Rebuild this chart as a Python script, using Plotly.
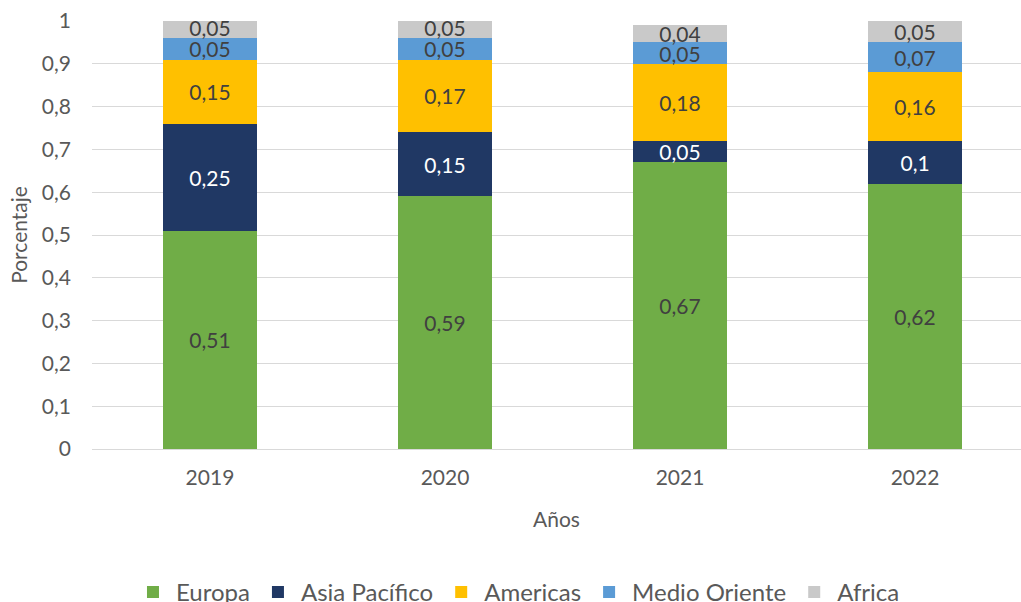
import plotly.graph_objects as go

years = ["2019", "2020", "2021", "2022"]
europa = [0.51, 0.59, 0.67, 0.62]
asia_pacifico = [0.25, 0.15, 0.05, 0.10]
americas = [0.15, 0.17, 0.18, 0.16]
medio_oriente = [0.05, 0.05, 0.05, 0.07]
africa = [0.05, 0.05, 0.04, 0.05]

series = [
    ("Europa", europa, "#70AD47", "#404040"),
    ("Asia Pacífico", asia_pacifico, "#203864", "#FFFFFF"),
    ("Americas", americas, "#FFC000", "#404040"),
    ("Medio Oriente", medio_oriente, "#5B9BD5", "#404040"),
    ("Africa", africa, "#C9C9C9", "#404040"),
]

FONT = "Lato, Carlito, Calibri, sans-serif"

fig = go.Figure()
for name, vals, color, tcol in series:
    fig.add_trace(go.Bar(
        name=name, x=years, y=vals,
        marker=dict(color=color, line=dict(width=0)),
        width=0.4,
        texttemplate="%{y}",
        textposition="inside",
        insidetextanchor="middle",
        textangle=0,
        constraintext="none",
        insidetextfont=dict(family=FONT, size=21, color=tcol),
    ))

fig.update_layout(
    barmode="stack",
    width=1021, height=602,
    margin=dict(l=92, r=0, t=21, b=153),
    plot_bgcolor="white", paper_bgcolor="white",
    separators=",.",
    font=dict(family=FONT, color="#595959", size=21),
    uniformtext=dict(minsize=21, mode="show"),
    showlegend=True,
    legend=dict(
        orientation="h", x=0.458, xanchor="center",
        y=0.016, yanchor="middle", yref="container",
        font=dict(family=FONT, size=24, color="#595959"),
        traceorder="normal", itemwidth=36,
    ),
    xaxis=dict(
        range=[-0.502, 3.451],
        showgrid=False, showline=False, zeroline=False,
        ticks="", ticklabelstandoff=14,
        tickfont=dict(size=21, color="#595959"),
        title=dict(text="Años", font=dict(size=21, color="#595959"), standoff=24),
    ),
    yaxis=dict(
        range=[0, 1], dtick=0.1, tick0=0,
        showgrid=True, gridcolor="#D9D9D9", gridwidth=1,
        zeroline=True, zerolinecolor="#D9D9D9", zerolinewidth=1,
        showline=False, ticks="", ticklabelstandoff=20,
        tickfont=dict(size=21, color="#595959"),
        title=dict(text="Porcentaje", font=dict(size=21, color="#595959"), standoff=8),
    ),
)

fig.write_html(
    "out.html",
    config={"displayModeBar": False},
    post_script="document.body.style.margin='0';",
)
